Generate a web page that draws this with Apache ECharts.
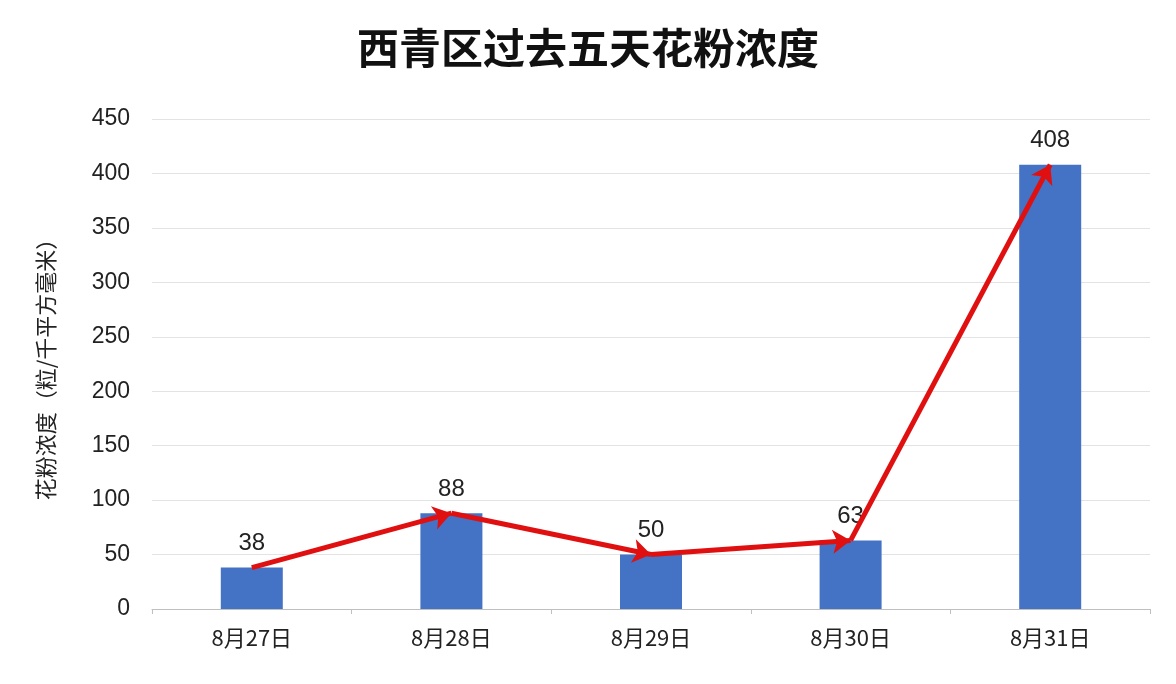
<!DOCTYPE html>
<html><head><meta charset="utf-8">
<script src="https://cdn.jsdelivr.net/npm/echarts@6/dist/echarts.min.js"></script>
<style>html,body{margin:0;background:#fff}#c{width:1176px;height:684px}</style>
</head><body><div id="c"></div>
<script>
const categories = ['8月27日','8月28日','8月29日','8月30日','8月31日'];
const values = [38, 88, 50, 63, 408];
const yTicks = [0, 450, 50];
const chart = echarts.init(document.getElementById('c'));
const arrows = [];
for (let i = 0; i < values.length - 1; i++) {
  arrows.push({coords: [[categories[i], values[i]], [categories[i+1], values[i+1]]]});
}
chart.setOption({
  animation: false,
  title: {text: '西青区过去五天花粉浓度', left: 'center', top: 22,
    textStyle: {fontSize: 42, fontWeight: 'bold', color: '#111', fontFamily: 'Noto Sans CJK SC'}},
  grid: {left: 152, right: 26, top: 119, bottom: 75},
  xAxis: {type: 'category', data: categories,
    axisLine: {lineStyle: {color: '#bfbfbf'}}, axisTick: {show: true, lineStyle: {color: '#bfbfbf'}},
    axisLabel: {fontSize: 22, color: '#222', margin: 18, fontFamily: 'Noto Sans CJK SC'}},
  yAxis: {type: 'value', min: yTicks[0], max: yTicks[1], interval: yTicks[2],
    name: '花粉浓度（粒/千平方毫米）', nameLocation: 'middle', nameGap: 95,
    nameTextStyle: {fontSize: 22, color: '#222', fontFamily: 'Noto Sans CJK SC'},
    axisLine: {show: false}, axisTick: {show: false},
    splitLine: {lineStyle: {color: '#e3e3e3'}},
    axisLabel: {fontSize: 23, color: '#222', margin: 22}},
  series: [
    {type: 'bar', data: values, barWidth: 62, itemStyle: {color: '#4472C4'},
     label: {show: true, position: 'top', distance: 12, fontSize: 24, color: '#222'}},
    {type: 'lines', coordinateSystem: 'cartesian2d', data: arrows, z: 5,
     symbol: ['none', 'arrow'], symbolSize: 18,
     lineStyle: {color: '#e01010', width: 5, opacity: 1}}
  ]
});
</script></body></html>
